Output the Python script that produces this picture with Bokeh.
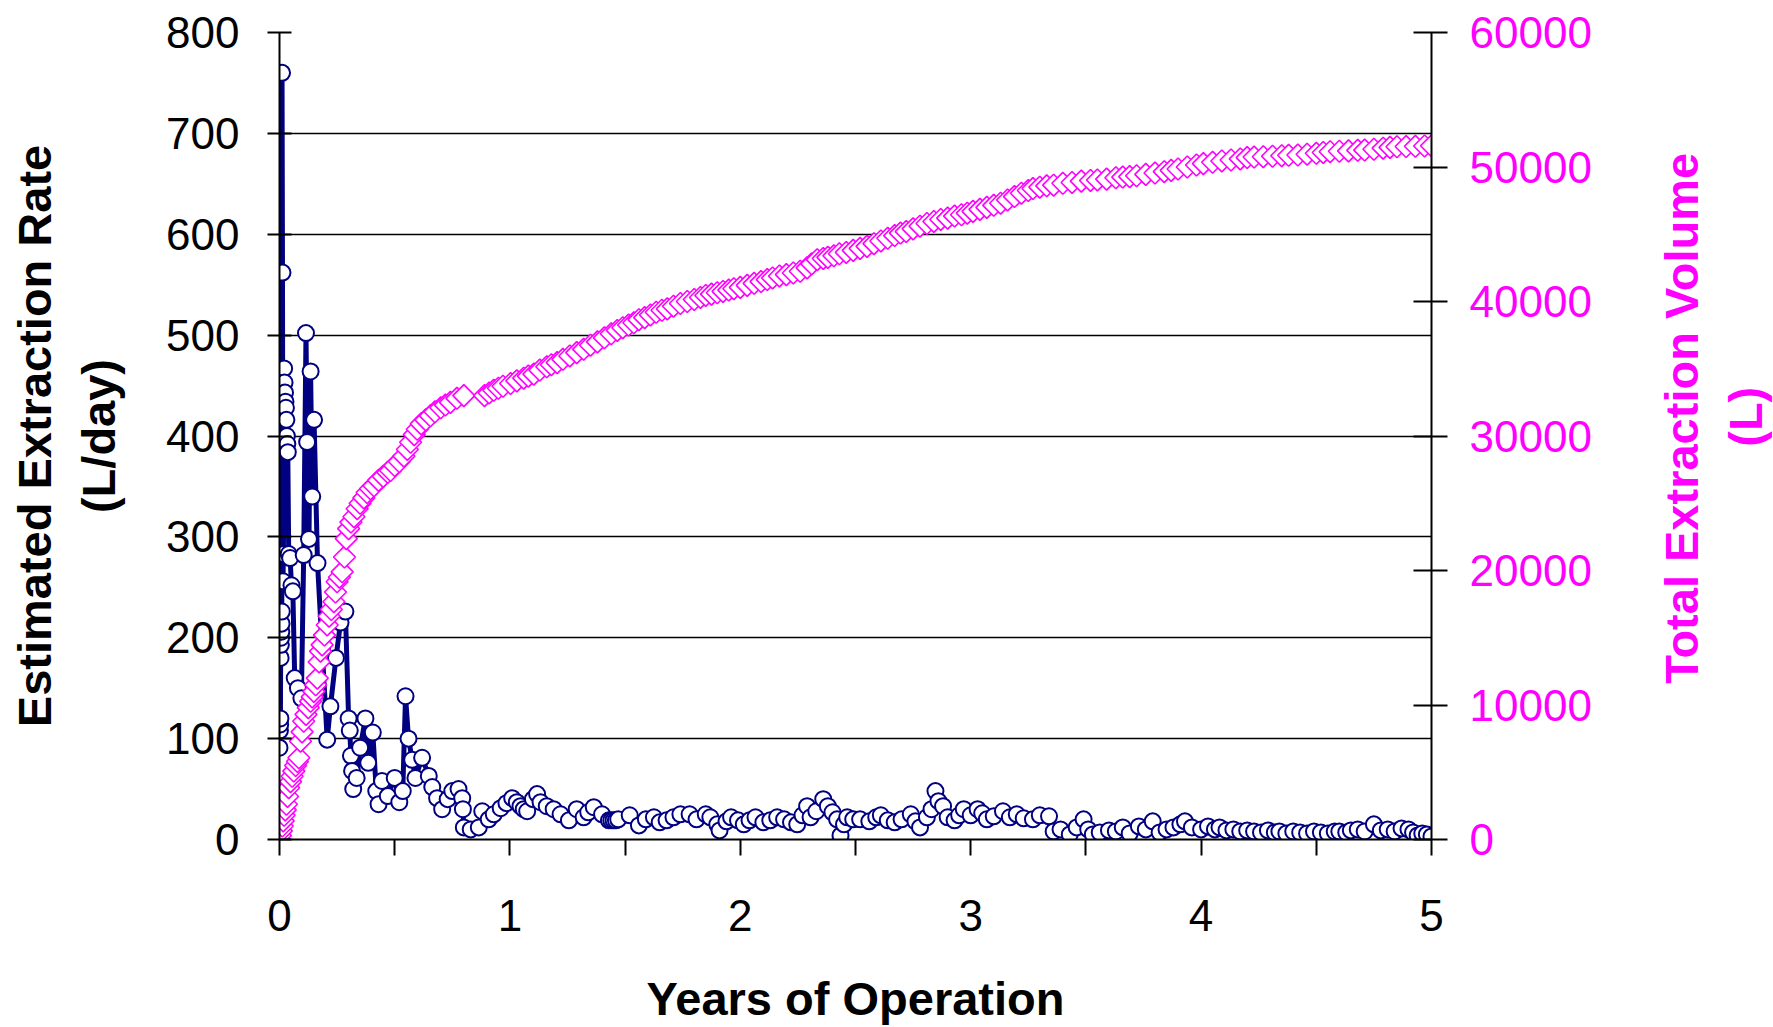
from bokeh.plotting import figure
from bokeh.layouts import row
from bokeh.models import Range1d, LinearAxis, FixedTicker
from bokeh.core.properties import value
from bokeh.embed import file_html
from bokeh.resources import INLINE

# ---------------- data ----------------
x_ticks = [0, 1, 2, 3, 4, 5]
x_minor = [0.5, 1.5, 2.5, 3.5, 4.5]
rate_ticks = [0, 100, 200, 300, 400, 500, 600, 700, 800]
vol_ticks = [0, 10000, 20000, 30000, 40000, 50000, 60000]

rate_years = [
    0.000, 0.002, 0.003, 0.004, 0.005, 0.006, 0.007, 0.008, 0.009, 0.010,
    0.011, 0.013, 0.015, 0.017, 0.020, 0.022, 0.024, 0.026, 0.028, 0.030,
    0.032, 0.034, 0.036, 0.040, 0.046, 0.052, 0.058, 0.066, 0.080, 0.095,
    0.105, 0.115, 0.120, 0.128, 0.135, 0.142, 0.150, 0.165, 0.185, 0.207,
    0.221, 0.245, 0.265, 0.286, 0.300, 0.305, 0.310, 0.315, 0.320, 0.335,
    0.350, 0.373, 0.385, 0.405, 0.420, 0.430, 0.445, 0.470, 0.500, 0.520,
    0.535, 0.547, 0.560, 0.576, 0.590, 0.619, 0.648, 0.663, 0.684, 0.706,
    0.730, 0.750, 0.777, 0.793, 0.796, 0.800, 0.830, 0.865, 0.880, 0.908,
    0.930, 0.960, 0.985, 1.010, 1.030, 1.046, 1.060, 1.075, 1.100, 1.118,
    1.133, 1.160, 1.190, 1.220, 1.256, 1.290, 1.320, 1.340, 1.364, 1.400,
    1.430, 1.440, 1.450, 1.460, 1.470, 1.520, 1.560, 1.590, 1.625, 1.650,
    1.680, 1.710, 1.740, 1.780, 1.810, 1.850, 1.870, 1.900, 1.910, 1.940,
    1.960, 1.990, 2.015, 2.040, 2.066, 2.100, 2.130, 2.160, 2.190, 2.220,
    2.247, 2.270, 2.290, 2.305, 2.330, 2.360, 2.380, 2.400, 2.420, 2.435,
    2.450, 2.464, 2.490, 2.520, 2.560, 2.590, 2.610, 2.640, 2.670, 2.700,
    2.740, 2.760, 2.780, 2.810, 2.830, 2.847, 2.860, 2.880, 2.900, 2.930,
    2.950, 2.970, 3.000, 3.030, 3.050, 3.070, 3.100, 3.140, 3.170, 3.200,
    3.230, 3.270, 3.300, 3.340, 3.360, 3.390, 3.430, 3.460, 3.490, 3.510,
    3.530, 3.560, 3.600, 3.630, 3.660, 3.690, 3.730, 3.760, 3.790, 3.820,
    3.850, 3.880, 3.910, 3.930, 3.960, 4.000, 4.030, 4.060, 4.080, 4.110,
    4.140, 4.170, 4.200, 4.230, 4.260, 4.290, 4.320, 4.340, 4.370, 4.400,
    4.430, 4.460, 4.490, 4.520, 4.550, 4.580, 4.600, 4.630, 4.650, 4.680,
    4.710, 4.750, 4.780, 4.810, 4.840, 4.870, 4.900, 4.920, 4.940, 4.960,
    4.980, 5.000,
]
rate_lpd = [
    91, 108, 114, 120, 180, 193, 200, 206, 214, 226,
    760, 562, 256, 283, 467, 453, 443, 434, 428, 416,
    400, 392, 384, 283, 279, 252, 246, 160, 150, 140,
    282, 502, 394, 298, 464, 340, 416, 274, 190, 99,
    132, 180, 215, 226, 120, 108, 83, 68, 50, 61,
    91, 120, 76, 106, 48, 35, 58, 43, 61, 37,
    48, 142, 100, 79, 61, 81, 63, 52, 41, 30,
    40, 48, 50, 41, 30, 12, 10, 12, 28, 20,
    25, 31, 36, 41, 37, 33, 30, 28, 40, 45,
    37, 33, 30, 25, 19, 30, 22, 27, 32, 25,
    19, 19, 19, 19, 20, 24, 14, 20, 22, 17,
    19, 22, 25, 25, 20, 25, 22, 15, 9, 18,
    22, 19, 15, 19, 22, 17, 19, 22, 20, 17,
    15, 24, 33, 22, 28, 40, 33, 27, 20, 4,
    15, 22, 20, 20, 18, 22, 24, 19, 17, 20,
    25, 18, 12, 22, 30, 48, 38, 33, 22, 19,
    24, 30, 24, 30, 26, 20, 23, 28, 22, 25,
    21, 20, 24, 23, 8, 10, 5, 12, 20, 10,
    5, 7, 9, 8, 12, 6, 13, 10, 18, 7,
    10, 12, 15, 18, 12, 10, 13, 10, 12, 9,
    10, 8, 9, 8, 7, 9, 7, 8, 6, 8,
    7, 6, 8, 7, 6, 8, 8, 7, 9, 10,
    8, 15, 9, 10, 8, 11, 10, 7, 4, 6,
    5, 3,
]

vol_years = [
    0.000, 0.004, 0.008, 0.012, 0.016, 0.020, 0.025, 0.030, 0.035, 0.040,
    0.048, 0.055, 0.062, 0.070, 0.078, 0.084, 0.091, 0.098, 0.105, 0.115,
    0.125, 0.135, 0.142, 0.149, 0.157, 0.164, 0.172, 0.178, 0.185, 0.195,
    0.207, 0.215, 0.225, 0.236, 0.243, 0.250, 0.260, 0.272, 0.282, 0.290,
    0.300, 0.310, 0.323, 0.337, 0.350, 0.366, 0.380, 0.395, 0.410, 0.430,
    0.450, 0.470, 0.482, 0.500, 0.520, 0.540, 0.555, 0.569, 0.585, 0.598,
    0.615, 0.635, 0.655, 0.675, 0.700, 0.720, 0.742, 0.770, 0.800, 0.890,
    0.910, 0.930, 0.950, 0.970, 1.003, 1.030, 1.060, 1.080, 1.104, 1.130,
    1.160, 1.180, 1.205, 1.230, 1.260, 1.290, 1.320, 1.350, 1.380, 1.410,
    1.440, 1.466, 1.490, 1.515, 1.538, 1.560, 1.585, 1.610, 1.635, 1.660,
    1.683, 1.710, 1.740, 1.770, 1.800, 1.827, 1.850, 1.875, 1.900, 1.925,
    1.950, 1.972, 2.000, 2.030, 2.060, 2.090, 2.117, 2.140, 2.170, 2.200,
    2.230, 2.260, 2.290, 2.310, 2.334, 2.360, 2.380, 2.406, 2.430, 2.460,
    2.490, 2.520, 2.550, 2.580, 2.610, 2.640, 2.670, 2.695, 2.720, 2.750,
    2.780, 2.810, 2.840, 2.870, 2.900, 2.930, 2.960, 2.985, 3.010, 3.040,
    3.070, 3.100, 3.130, 3.160, 3.190, 3.220, 3.250, 3.270, 3.300, 3.330,
    3.360, 3.400, 3.440, 3.480, 3.520, 3.550, 3.590, 3.630, 3.660, 3.690,
    3.720, 3.760, 3.800, 3.840, 3.870, 3.900, 3.940, 3.980, 4.010, 4.050,
    4.090, 4.130, 4.170, 4.200, 4.230, 4.270, 4.310, 4.350, 4.380, 4.420,
    4.460, 4.500, 4.530, 4.560, 4.600, 4.640, 4.680, 4.710, 4.750, 4.790,
    4.820, 4.850, 4.890, 4.930, 4.970, 5.000,
]
vol_liters = [
    0, 300, 640, 1000, 1385, 1800, 2200, 2617, 3200, 3851,
    4300, 4700, 5086, 5500, 5800, 6074, 7308, 8000, 8790, 9300,
    9800, 10272, 10600, 11012, 11500, 12000, 13200, 14000, 14469, 15200,
    15951, 16600, 17100, 17679, 18400, 19160, 19500, 19900, 21000, 22370,
    23111, 23600, 24000, 24593, 25000, 25400, 25800, 26074, 26300, 26700,
    27000, 27300, 27432, 27800, 28100, 28500, 29000, 29531, 30100, 30500,
    30900, 31200, 31500, 31800, 32100, 32300, 32500, 32800, 33000, 33000,
    33200, 33400, 33550, 33700, 33900, 34100, 34300, 34450, 34600, 34900,
    35150, 35300, 35457, 35700, 35950, 36200, 36444, 36750, 37000, 37300,
    37600, 37850, 38050, 38250, 38420, 38650, 38800, 39000, 39200, 39350,
    39450, 39650, 39850, 40000, 40150, 40300, 40450, 40550, 40650, 40750,
    40850, 40950, 41050, 41200, 41350, 41480, 41630, 41750, 41900, 42000,
    42120, 42250, 42500, 42800, 43111, 43200, 43280, 43400, 43550, 43650,
    43800, 43950, 44100, 44300, 44500, 44700, 44900, 45086, 45200, 45400,
    45600, 45800, 45950, 46100, 46200, 46350, 46450, 46568, 46700, 46850,
    47000, 47150, 47309, 47550, 47800, 48050, 48250, 48400, 48500, 48600,
    48650, 48790, 48850, 48950, 49000, 49037, 49100, 49200, 49250, 49284,
    49350, 49450, 49550, 49654, 49750, 49850, 50000, 50148, 50250, 50350,
    50450, 50519, 50600, 50700, 50740, 50765, 50800, 50840, 50870, 50889,
    50950, 51020, 51080, 51136, 51170, 51200, 51240, 51259, 51320, 51400,
    51460, 51506, 51520, 51540, 51560, 51580,
]

x_title = "Years of Operation"
left_title = "Estimated Extraction Rate\n(L/day)"
right_title_lines = ["Total Extraction Volume", "(L)"]

# ---------------- style ----------------
NAVY = "#000080"
PINK = "#FF00FF"
FONT = "Liberation Sans"
TICK_SIZE = "44px"
TITLE_SIZE = "47px"

W, H = 1773, 1027
MAIN_W = 1640          # main figure width; the rest holds the right-hand title
SIDE_W = W - MAIN_W

p = figure(width=MAIN_W, height=H, output_backend="svg", toolbar_location=None,
           x_range=Range1d(0, 5), y_range=Range1d(0, 800),
           min_border_left=279, min_border_right=MAIN_W - 1431,
           min_border_top=32, min_border_bottom=185)
p.outline_line_color = None
p.background_fill_color = "white"
p.border_fill_color = "white"
p.extra_y_ranges = {"vol": Range1d(0, 60000)}


def style_title(ax, color, standoff):
    ax.axis_label_text_font = FONT
    ax.axis_label_text_font_size = TITLE_SIZE
    ax.axis_label_text_font_style = "bold"
    ax.axis_label_text_color = color
    ax.axis_label_standoff = standoff


# x axis
xa = p.xaxis[0]
xa.ticker = FixedTicker(ticks=x_ticks, minor_ticks=x_minor)
xa.axis_line_color = "black"
xa.axis_line_width = 2
xa.major_tick_line_width = 2
xa.minor_tick_line_width = 2
xa.major_tick_out = 16
xa.major_tick_in = 0
xa.minor_tick_out = 16
xa.minor_tick_in = 0
xa.major_label_text_font = FONT
xa.major_label_text_font_size = TICK_SIZE
xa.major_label_text_color = "black"
xa.major_label_standoff = 44
xa.axis_label = x_title
style_title(xa, "black", 38)

# left axis
ya = p.yaxis[0]
ya.ticker = FixedTicker(ticks=rate_ticks)
ya.axis_line_color = "black"
ya.axis_line_width = 2
ya.major_tick_line_width = 2
ya.major_tick_out = 12
ya.major_tick_in = 12
ya.minor_tick_out = 0
ya.minor_tick_in = 0
ya.major_label_text_font = FONT
ya.major_label_text_font_size = TICK_SIZE
ya.major_label_text_color = "black"
ya.major_label_standoff = 28
ya.axis_label = left_title
style_title(ya, "black", 38)

# right axis
ra = LinearAxis(y_range_name="vol", ticker=FixedTicker(ticks=vol_ticks))
ra.axis_line_color = "black"
ra.axis_line_width = 2
ra.major_tick_line_width = 2
ra.major_tick_out = 16
ra.major_tick_in = 18
ra.minor_tick_out = 0
ra.minor_tick_in = 0
ra.major_label_text_font = FONT
ra.major_label_text_font_size = TICK_SIZE
ra.major_label_text_color = PINK
ra.major_label_standoff = 22
p.add_layout(ra, "right")

# grid
p.xgrid.visible = False
p.ygrid.ticker = FixedTicker(ticks=rate_ticks)
p.ygrid.grid_line_color = "black"
p.ygrid.grid_line_width = 1.6

# series 1: extraction rate
p.line(rate_years, rate_lpd, line_color=NAVY, line_width=5)
p.scatter(rate_years, rate_lpd, marker="circle", size=16,
          fill_color="white", line_color=NAVY, line_width=2)

# series 2: total volume
p.line(vol_years, vol_liters, y_range_name="vol", line_color=PINK, line_width=1.5)
p.scatter(vol_years, vol_liters, y_range_name="vol", marker="square", angle=0.785398,
          size=15.5, fill_color="white", line_color=PINK, line_width=1.6)

# ---------------- right-hand title strip (pixel coordinates) ----------------
s = figure(width=SIDE_W, height=H, output_backend="svg", toolbar_location=None,
           x_range=Range1d(0, SIDE_W), y_range=Range1d(0, H),
           x_axis_type=None, y_axis_type=None,
           min_border_left=0, min_border_right=0, min_border_top=0, min_border_bottom=0)
s.outline_line_color = None
s.xgrid.visible = False
s.ygrid.visible = False
s.background_fill_color = "white"
s.border_fill_color = "white"
s.text(x=[1681 - MAIN_W, 1745 - MAIN_W], y=[H - 491, H - 489], text=right_title_lines,
       angle=1.5708, text_align="center", text_baseline="middle",
       text_font=value(FONT), text_font_size=value(TITLE_SIZE),
       text_font_style="bold", text_color=PINK)

layout = row(p, s, spacing=0)
open("out.html", "w").write(file_html(layout, INLINE))
